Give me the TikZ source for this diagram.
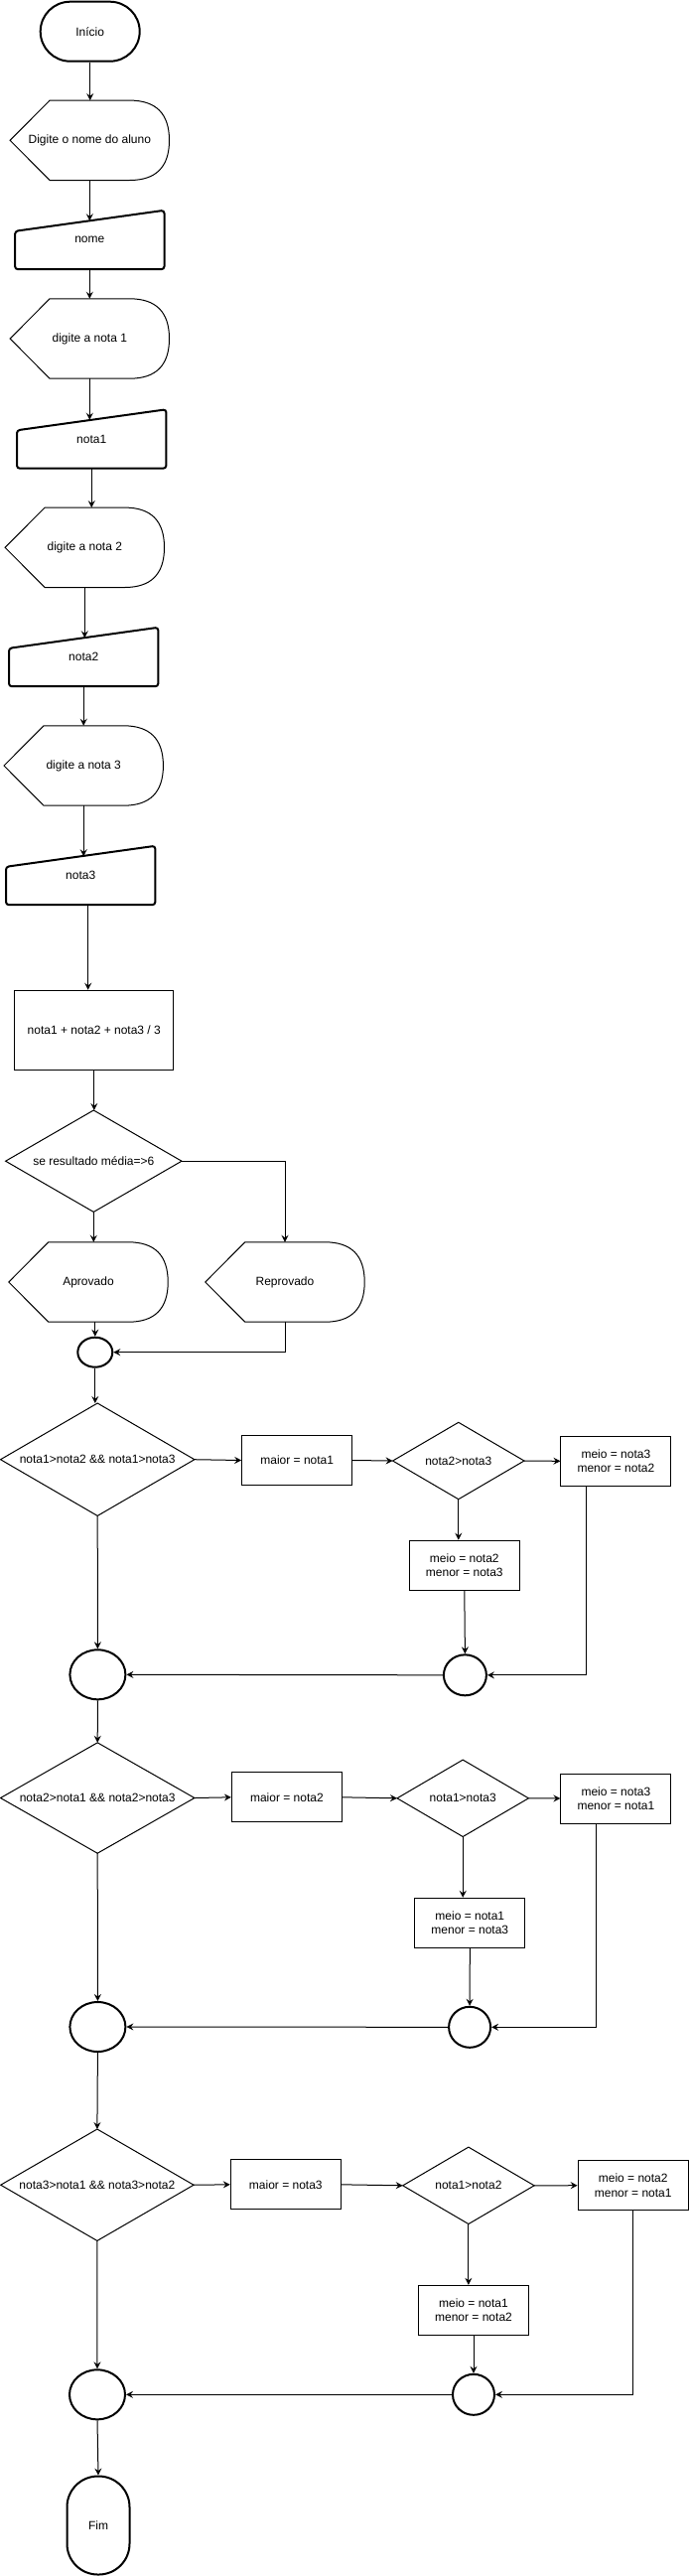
\documentclass[tikz,border=0pt]{standalone}
\usepackage{fontspec}
\setmainfont{Liberation Sans}
\usetikzlibrary{arrows.meta,calc,shapes.geometric}
\newcommand\dispOut[1]{\draw[thinln] (#1.west) -- ($(#1.north west)+(40,0)$) -- ($(#1.north east)+(-40,0)$) .. controls ($(#1.north east)+(-13.33,0)$) and ($(#1.north east)+(0,13.33)$) .. (#1.east) .. controls ($(#1.south east)+(0,-13.33)$) and ($(#1.south east)+(-13.33,0)$) .. ($(#1.south east)+(-40,0)$) -- ($(#1.south west)+(40,0)$) -- cycle;}
\newcommand\manOut[1]{\draw[thickln, rounded corners=3pt] ($(#1.north west)+(0,21)$) -- (#1.north east) -- (#1.south east) -- (#1.south west) -- cycle;}
\newcommand\decOut[1]{\draw[thinln] (#1.north) -- (#1.east) -- (#1.south) -- (#1.west) -- cycle;}
\begin{document}
\begin{tikzpicture}[x=1pt,y=-1pt,
  every node/.style={font=\fontsize{12}{14.5}\selectfont, inner sep=0pt},
  thinln/.style={line width=1pt, draw=black},
  thickln/.style={line width=2pt, draw=black},
  arr/.style={line width=1pt, -{Stealth[length=7pt,width=7pt,inset=2.5pt]}},
  lnk/.style={line width=1pt},
  disp/.style={rectangle, minimum width=160pt, minimum height=80pt},
  manin/.style={rectangle, minimum width=150pt, minimum height=59pt},
  proc/.style={rectangle, draw, line width=1pt, minimum width=111pt, minimum height=50pt, align=center},
  dec/.style={rectangle, align=center},
  term/.style={rectangle, draw, line width=2pt, rounded corners=30pt},
  jn/.style={ellipse, draw, line width=2pt}]
\useasboundingbox (0,0) rectangle (694,2594);

% ---- nodes ----
\node[term, minimum width=100pt, minimum height=60pt] (inicio) at (90.7,31.7) {Início};
\node[disp] (disp1) at (90.3,141.3) {Digite o nome do aluno};
\node[manin] (nome) at (90.3,241.5) {nome};
\node[disp] (disp2) at (90.3,341) {digite a nota 1};
\node[manin] (nota1) at (92.2,442) {nota1};
\node[disp] (disp3) at (85.3,551.3) {digite a nota 2};
\node[manin] (nota2) at (84.2,661.5) {nota2};
\node[disp] (disp4) at (84.2,771) {digite a nota 3};
\node[manin] (nota3) at (81.2,881.5) {nota3};
\node[rectangle, draw, line width=1pt, minimum width=160pt, minimum height=80pt] (calc) at (94.8,1037.3) {nota1 + nota2 + nota3 / 3};
\node[dec, minimum width=177pt, minimum height=102pt] (dec0) at (94.3,1169.2) {se resultado média=>6};
\node[disp] (aprov) at (89,1291) {Aprovado};
\node[disp] (reprov) at (287,1291) {Reprovado};
\node[jn, minimum width=35pt, minimum height=30pt] (j0) at (95.8,1361.7) {};

\node[dec, minimum width=195pt, minimum height=113pt] (d1) at (98.2,1469.7) {nota1>nota2 \&\& nota1>nota3};
\node[proc] (m1) at (299.2,1470.5) {maior = nota1};
\node[dec, minimum width=132pt, minimum height=77pt] (d1b) at (461.8,1471) {nota2>nota3};
\node[proc] (r1a) at (620.4,1471.3) {meio = nota3\\menor = nota2};
\node[proc] (r1b) at (467.8,1576.2) {meio = nota2\\menor = nota3};
\node[jn, minimum width=43pt, minimum height=41pt] (j1s) at (468.4,1686.8) {};
\node[jn, minimum width=56pt, minimum height=50pt] (j1) at (98.4,1686.3) {};

\node[dec, minimum width=195pt, minimum height=111pt] (d2) at (98.2,1810.5) {nota2>nota1 \&\& nota2>nota3};
\node[proc] (m2) at (288.9,1809.8) {maior = nota2};
\node[dec, minimum width=132pt, minimum height=77pt] (d2b) at (466.2,1810.8) {nota1>nota3};
\node[proc] (r2a) at (620.4,1811) {meio = nota3\\menor = nota1};
\node[proc] (r2b) at (473.3,1936.3) {meio = nota1\\menor = nota3};
\node[jn, minimum width=42pt, minimum height=41pt] (j2s) at (473.1,2041.3) {};
\node[jn, minimum width=56pt, minimum height=50pt] (j2) at (98.4,2041) {};

\node[dec, minimum width=194pt, minimum height=112pt] (d3) at (97.9,2200.2) {nota3>nota1 \&\& nota3>nota2};
\node[proc] (m3) at (287.8,2199.8) {maior = nota3};
\node[dec, minimum width=132pt, minimum height=77pt] (d3b) at (471.9,2200.8) {nota1>nota2};
\node[proc] (r3a) at (637.7,2200.7) {meio = nota2\\menor = nota1};
\node[proc] (r3b) at (477,2326.3) {meio = nota1\\menor = nota2};
\node[jn, minimum width=42pt, minimum height=41pt] (j3s) at (477,2411.3) {};
\node[jn, minimum width=56pt, minimum height=50pt] (j3) at (98,2411.3) {};
\node[term, minimum width=63pt, minimum height=99pt, rounded corners=31pt] (fim) at (99,2543) {Fim};

% ---- outlines ----
\dispOut{disp1}\dispOut{disp2}\dispOut{disp3}\dispOut{disp4}\dispOut{aprov}\dispOut{reprov}
\manOut{nome}\manOut{nota1}\manOut{nota2}\manOut{nota3}
\decOut{dec0}\decOut{d1}\decOut{d1b}\decOut{d2}\decOut{d2b}\decOut{d3}\decOut{d3b}

% ---- slope points of manual inputs ----
\coordinate (nomeT) at ($(nome.north)+(0,10.5)$);
\coordinate (n1T) at ($(nota1.north)+(0,10.5)$);
\coordinate (n2T) at ($(nota2.north)+(0,10.5)$);
\coordinate (n3T) at ($(nota3.north)+(0,10.5)$);

% ---- connectors ----
\draw[arr] (inicio.south) -- (inicio.south |- disp1.north);
\draw[arr] (disp1.south) -- (disp1.south |- nomeT);
\draw[arr] (nome.south) -- (nome.south |- disp2.north);
\draw[arr] (disp2.south) -- (disp2.south |- n1T);
\draw[arr] (nota1.south) -- (nota1.south |- disp3.north);
\draw[arr] (disp3.south) -- (disp3.south |- n2T);
\draw[arr] (nota2.south) -- (nota2.south |- disp4.north);
\draw[arr] (disp4.south) -- (disp4.south |- n3T);
\coordinate (c9) at ($(nota3.south)+(7.5,0)$);
\draw[arr] (c9) -- (c9 |- calc.north);
\draw[arr] (calc.south) -- (calc.south |- dec0.north);
\draw[arr] (dec0.south) -- (dec0.south |- aprov.north);
\draw[arr] (dec0.east) -| (reprov.north);
\draw[arr] (j0.north |- aprov.south) -- (j0.north);
\draw[arr] (reprov.south) |- (j0.east);
\draw[arr] (j0.south) -- (j0.south |- d1.north);

\draw[arr] (d1.east) -- (m1.west);
\draw[arr] (m1.east) -- (d1b.west);
\draw[arr] (d1b.east) -- (r1a.west);
\draw[arr] (d1b.south) -- (d1b.south |- r1b.north);
\draw[arr] (r1b.south) -- (j1s.north);
\draw[arr] ($(r1a.south)+(-29.7,0)$) |- (j1s.east);
\draw[arr] (j1s.west) -- (j1.east);
\draw[arr] (d1.south) -- (j1.north);
\draw[arr] (j1.south) -- (d2.north);

\draw[arr] (d2.east) -- (m2.west);
\draw[arr] (m2.east) -- (d2b.west);
\draw[arr] (d2b.east) -- (r2a.west);
\draw[arr] (d2b.south) -- (d2b.south |- r2b.north);
\draw[arr] (r2b.south) -- (j2s.north);
\draw[arr] ($(r2a.south)+(-19.5,0)$) |- (j2s.east);
\draw[arr] (j2s.west) -- (j2.east);
\draw[arr] (d2.south) -- (j2.north);
\draw[arr] (j2.south) -- (d3.north);

\draw[arr] (d3.east) -- (m3.west);
\draw[arr] (m3.east) -- (d3b.west);
\draw[arr] (d3b.east) -- (r3a.west);
\draw[arr] (d3b.south) -- (d3b.south |- r3b.north);
\draw[arr] (r3b.south) -- (j3s.north);
\draw[arr] (r3a.south) |- (j3s.east);
\draw[arr] (j3s.west) -- (j3.east);
\draw[arr] (d3.south) -- (j3.north);
\draw[arr] (j3.south) -- (fim.north);
\end{tikzpicture}
\end{document}
